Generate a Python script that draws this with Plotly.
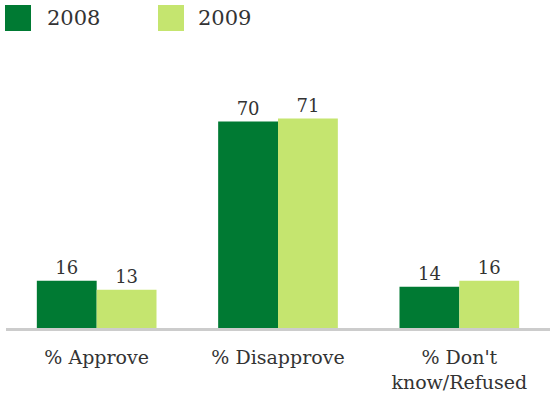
import plotly.graph_objects as go

categories = ["% Approve", "% Disapprove", "% Don't<br>know/Refused"]
series_names = ["2008", "2009"]
values_2008 = [16, 70, 14]
values_2009 = [13, 71, 16]
colors = ["#007A33", "#C5E56F"]

FONT = "DejaVu Serif, Liberation Serif, serif"

fig = go.Figure()
for name, vals, col in zip(series_names, [values_2008, values_2009], colors):
    fig.add_trace(go.Bar(
        x=categories, y=vals, name=name, marker=dict(color=col, line=dict(width=0)),
        text=[str(v) for v in vals], textposition="outside",
        textfont=dict(family=FONT, size=18, color="#333333"),
        cliponaxis=False, showlegend=False,
    ))

fig.update_layout(
    width=550, height=405,
    margin=dict(l=6, r=0, t=92, b=77),
    barmode="group", bargap=0.34, bargroupgap=0,
    plot_bgcolor="white", paper_bgcolor="white",
    font=dict(family=FONT, color="#333333"),
    xaxis=dict(showline=True, linecolor="#CCCCCC", linewidth=3, ticks="",
               tickfont=dict(family=FONT, size=19, color="#333333"),
               ticklabelstandoff=10, showgrid=False, zeroline=False),
    yaxis=dict(range=[0, 80], visible=False, showgrid=False, zeroline=False),
)

def px2x(p):
    return (p - 6) / 544

def py2y(p):
    return (328 - p) / 236

# manual legend
for i, (name, col) in enumerate(zip(series_names, colors)):
    px_left = [5, 158][i]
    px_text = [45, 196][i]
    fig.add_shape(type="rect", xref="paper", yref="paper",
                  x0=px2x(px_left), x1=px2x(px_left + 26),
                  y0=py2y(31), y1=py2y(5),
                  line=dict(width=0), fillcolor=col)
    fig.add_annotation(xref="paper", yref="paper", x=px2x(px_text), y=py2y(18),
                       text=name, showarrow=False, xanchor="left", yanchor="middle",
                       font=dict(family=FONT, size=21, color="#333333"))

fig.write_html("out.html")
